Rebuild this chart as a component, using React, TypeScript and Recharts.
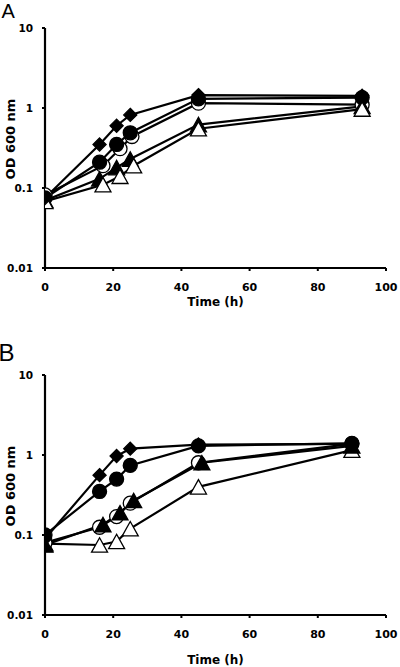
import React from 'react';
import { LineChart, Line, XAxis, YAxis, Label } from 'recharts';

type Pt = { t: number; od: number };

// Panel A – OD600 over time
const diamondsA: Pt[] = [
  { t: 0, od: 0.075 }, { t: 16, od: 0.35 }, { t: 21, od: 0.6 }, { t: 25, od: 0.82 }, { t: 45, od: 1.45 }, { t: 93, od: 1.42 },
];
const filledCirclesA: Pt[] = [
  { t: 0, od: 0.075 }, { t: 16, od: 0.21 }, { t: 21, od: 0.35 }, { t: 25, od: 0.49 }, { t: 45, od: 1.3 }, { t: 93, od: 1.35 },
];
const openCirclesA: Pt[] = [
  { t: 0, od: 0.082 }, { t: 17, od: 0.19 }, { t: 22, od: 0.31 }, { t: 25.5, od: 0.44 }, { t: 45, od: 1.15 }, { t: 93, od: 1.1 },
];
const filledTrianglesA: Pt[] = [
  { t: 0, od: 0.07 }, { t: 16, od: 0.13 }, { t: 21, od: 0.18 }, { t: 25, od: 0.23 }, { t: 45, od: 0.62 }, { t: 93, od: 1.05 },
];
const openTrianglesA: Pt[] = [
  { t: 0, od: 0.068 }, { t: 17, od: 0.11 }, { t: 22, od: 0.14 }, { t: 26, od: 0.19 }, { t: 45, od: 0.55 }, { t: 93, od: 0.97 },
];

// Panel B
const diamondsB: Pt[] = [
  { t: 0, od: 0.09 }, { t: 16, od: 0.56 }, { t: 21, od: 0.97 }, { t: 25, od: 1.2 }, { t: 45, od: 1.35 }, { t: 90, od: 1.38 },
];
const filledCirclesB: Pt[] = [
  { t: 0, od: 0.1 }, { t: 16, od: 0.35 }, { t: 21, od: 0.5 }, { t: 25, od: 0.74 }, { t: 45, od: 1.3 }, { t: 90, od: 1.4 },
];
const openCirclesB: Pt[] = [
  { t: 0, od: 0.08 }, { t: 16, od: 0.125 }, { t: 21, od: 0.17 }, { t: 25, od: 0.25 }, { t: 45, od: 0.8 }, { t: 90, od: 1.38 },
];
const filledTrianglesB: Pt[] = [
  { t: 0, od: 0.075 }, { t: 17, od: 0.135 }, { t: 22, od: 0.19 }, { t: 26, od: 0.27 }, { t: 46, od: 0.8 }, { t: 90, od: 1.3 },
];
const openTrianglesB: Pt[] = [
  { t: 0, od: 0.078 }, { t: 16, od: 0.075 }, { t: 21, od: 0.083 }, { t: 25, od: 0.12 }, { t: 45, od: 0.4 }, { t: 90, od: 1.15 },
];

const xTicks = [0, 20, 40, 60, 80, 100];
const yTicks = [0.01, 0.1, 1, 10];

type Shape = 'diamond' | 'circle' | 'triangle';
type Series = { name: string; data: Pt[]; shape: Shape; filled: boolean };

const seriesA: Series[] = [
  { name: 'openCircles', data: openCirclesA, shape: 'circle', filled: false },
  { name: 'filledCircles', data: filledCirclesA, shape: 'circle', filled: true },
  { name: 'filledTriangles', data: filledTrianglesA, shape: 'triangle', filled: true },
  { name: 'openTriangles', data: openTrianglesA, shape: 'triangle', filled: false },
  { name: 'diamonds', data: diamondsA, shape: 'diamond', filled: true },
];
const seriesB: Series[] = [
  { name: 'openTriangles', data: openTrianglesB, shape: 'triangle', filled: false },
  { name: 'openCircles', data: openCirclesB, shape: 'circle', filled: false },
  { name: 'filledTriangles', data: filledTrianglesB, shape: 'triangle', filled: true },
  { name: 'filledCircles', data: filledCirclesB, shape: 'circle', filled: true },
  { name: 'diamonds', data: diamondsB, shape: 'diamond', filled: true },
];

const BOLD = 'DejaVu Sans, sans-serif';

function Marker({ cx, cy, shape, filled }: { cx: number; cy: number; shape: Shape; filled: boolean }) {
  if (cx == null || cy == null) return null;
  const fill = filled ? '#000' : '#fff';
  if (shape === 'diamond') {
    const r = 6.6;
    return (
      <polygon
        points={`${cx},${cy - r} ${cx + r},${cy} ${cx},${cy + r} ${cx - r},${cy}`}
        fill={fill}
        stroke="#000"
        strokeWidth={1.2}
      />
    );
  }
  if (shape === 'circle') {
    return <circle cx={cx} cy={cy} r={7} fill={fill} stroke="#000" strokeWidth={1.3} />;
  }
  const w = 8;
  const h = 7.2;
  return (
    <polygon
      points={`${cx},${cy - h} ${cx + w},${cy + h} ${cx - w},${cy + h}`}
      fill={fill}
      stroke="#000"
      strokeWidth={1.3}
    />
  );
}

function Panel({ series, timeY }: { series: Series[]; timeY: number }) {
  return (
    <LineChart width={400} height={320} margin={{ top: 28, right: 14, bottom: 0, left: 0 }}>
      <XAxis
        dataKey="t"
        type="number"
        domain={[0, 100]}
        ticks={xTicks}
        interval={0}
        allowDataOverflow
        height={52}
        axisLine={{ stroke: '#000', strokeWidth: 2.2 }}
        tickLine={{ stroke: '#000', strokeWidth: 2 }}
        tickSize={3}
        tickMargin={12}
        tick={{ fill: '#000', fontSize: 11, fontWeight: 'bold', fontFamily: BOLD }}
      >
        <Label
          content={() => (
            <text x={215.5} y={timeY} textAnchor="middle" fill="#000" fontSize={12} fontWeight="bold" fontFamily={BOLD}>
              Time (h)
            </text>
          )}
        />
      </XAxis>
      <YAxis
        type="number"
        scale="log"
        domain={[0.01, 10]}
        ticks={yTicks}
        interval={0}
        allowDataOverflow
        width={45}
        axisLine={{ stroke: '#000', strokeWidth: 2.2 }}
        tickLine={{ stroke: '#000', strokeWidth: 2 }}
        tickSize={3}
        tickMargin={9}
        tickFormatter={(v: number) => String(v)}
        tick={{ fill: '#000', fontSize: 10.5, fontWeight: 'bold', fontFamily: BOLD }}
      >
        <Label
          content={() => (
            <text
              x={15}
              y={139}
              transform="rotate(-90, 15, 139)"
              textAnchor="middle"
              fill="#000"
              fontSize={13}
              fontWeight="bold"
              fontFamily={BOLD}
            >
              OD 600 nm
            </text>
          )}
        />
      </YAxis>
      {series.map((s) => (
        <Line
          key={s.name}
          data={s.data}
          dataKey="od"
          type="linear"
          stroke="#000"
          strokeWidth={2.2}
          isAnimationActive={false}
          dot={(p: any) => (
            <Marker key={`${s.name}-${p.index}`} cx={p.cx} cy={p.cy} shape={s.shape} filled={s.filled} />
          )}
          activeDot={false}
        />
      ))}
    </LineChart>
  );
}

const letterStyle: React.CSSProperties = {
  position: 'absolute',
  lineHeight: 1,
  fontFamily: 'Liberation Sans, Arial, sans-serif',
  color: '#000',
};

export default function App() {
  return (
    <div style={{ position: 'absolute', top: 0, left: 0, width: 400, height: 667, background: '#fff', overflow: 'hidden' }}>
      <div style={{ position: 'absolute', top: 0, left: 0 }}>
        <Panel series={seriesA} timeY={306} />
      </div>
      <div style={{ position: 'absolute', top: 347, left: 0 }}>
        <Panel series={seriesB} timeY={317} />
      </div>
      <div style={{ ...letterStyle, top: 1.4, left: 1.5, fontSize: 20 }}>A</div>
      <div style={{ ...letterStyle, top: 341.2, left: -1.5, fontSize: 24 }}>B</div>
    </div>
  );
}
